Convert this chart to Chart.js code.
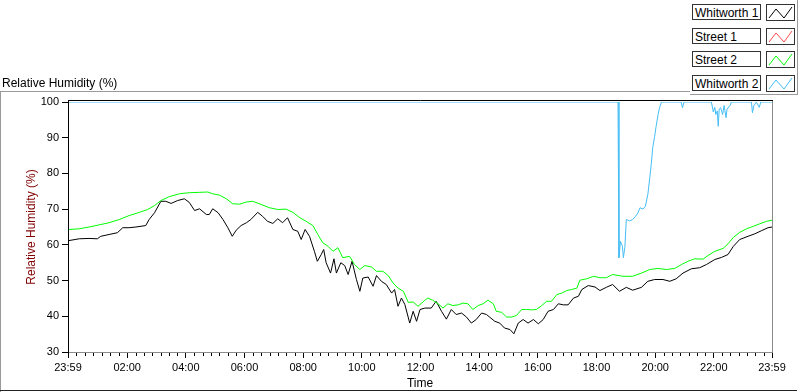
<!DOCTYPE html>
<html>
<head>
<meta charset="utf-8">
<script src="https://cdn.jsdelivr.net/npm/chart.js@4/dist/chart.umd.min.js"></script>
<style>
  html, body { margin:0; padding:0; background:#fff; }
  #wrap { position:relative; width:800px; height:392px; overflow:hidden; background:#fff; font-family:"Liberation Sans", Arial, sans-serif; }
  #c { position:absolute; left:0; top:0; }
  .ov { position:absolute; }
  #title { left:2px; top:76px; font-size:12px; line-height:14px; color:#000; white-space:nowrap; }
  .lbl { position:absolute; left:2px; width:69px; height:16px; border:1px solid #333; font-size:12px; line-height:16px; padding-left:2px; box-sizing:border-box; background:#fff; white-space:nowrap; color:#000; }
  .ico { position:absolute; left:76px; width:29px; height:17px; border:1px solid #333; box-sizing:border-box; background:#fff; }
</style>
</head>
<body>
<div id="wrap">
  <canvas id="c" width="800" height="392"></canvas>
  <div class="ov" id="title">Relative Humidity (%)</div>
  <div class="ov" style="left:0;top:91px;width:690px;height:1px;background:#9a9a9a;"></div>
  <div class="ov" style="left:0;top:91px;width:1px;height:301px;background:#9a9a9a;"></div>
  <div class="ov" style="left:0;top:390px;width:797px;height:1px;background:#222;"></div>
  <div class="ov" id="legend" style="left:690px;top:0;width:108px;height:95px;border-right:1px solid #9a9a9a;border-bottom:1px solid #9a9a9a;box-sizing:border-box;"></div>
</div>
<script>
// ---- data (minutes elapsed since 23:59 of the previous day, relative humidity %) ----
const seriesNames = ['Whitworth 1', 'Street 1', 'Street 2', 'Whitworth 2'];
const seriesColors = ['#000000', '#ff4a4a', '#00ff00', '#45bdf5'];

const xTickMinutes = [0, 121, 241, 361, 481, 601, 721, 841, 961, 1081, 1201, 1321, 1440];
const xTickLabels = ['23:59', '02:00', '04:00', '06:00', '08:00', '10:00', '12:00', '14:00', '16:00', '18:00', '20:00', '22:00', '23:59'];
const yTickValues = [30, 40, 50, 60, 70, 80, 90, 100];

const whitworth1Time = [2,23,43,60,67,84,101,112,125,139,159,166,177,190,200,211,224,238,248,259,269,283,289,296,307,317,327,336,344,354,365,
  374,388,398,408,419,429,439,449,460,470,477,485,494,504,510,518,523,528,537,544,549,558,566,573,581,590,597,603,614,624,631,641,651,662,668,675,682,689,699,706,713,720,730,
  743,753,764,774,784,794,805,815,825,835,846,856,863,873,883,893,904,912,921,931,941,952,962,972,982,993,1003,1013,1023,1034,1044,1051,1064,1078,1088,
  1101,1114,1128,1142,1155,1173,1186,1200,1217,1231,1244,1258,1275,1292,1306,1323,1337,1350,1361,1374,1391,1405,1419,1432,1440];
const whitworth1RH = [61.2,61.7,61.8,61.7,62.4,62.9,63.4,64.8,64.8,65.0,65.4,67.1,69.0,72.2,72.2,71.6,72.4,72.9,71.9,69.6,70.1,68.5,68.5,70.1,69.0,67.1,64.8,62.4,64.1,65.4,66.2,
  67.1,69.1,68.0,66.6,66.0,67.3,66.2,67.6,64.3,63.8,61.5,64.3,62.4,58.2,55.4,57.3,58.7,55.0,52.1,56.1,52.1,55.0,54.2,51.7,55.4,50.3,47.0,50.7,51.0,48.4,51.4,49.8,48.9,46.5,47.5,42.8,45.1,43.3,38.1,41.4,38.6,41.9,42.3,
  42.3,44.2,41.4,39.2,41.9,40.5,40.9,39.8,38.1,39.1,40.9,40.5,39.7,38.6,38.1,36.7,36.3,35.1,38.1,39.1,38.1,39.1,37.9,39.1,41.4,41.9,43.5,43.2,43.2,45.1,45.6,47.5,48.6,48.2,47.2,
  48.1,48.9,47.0,48.1,47.3,48.1,49.8,50.3,50.3,49.8,50.5,52.1,53.3,53.6,54.5,55.9,56.5,57.3,59.6,61.5,62.4,63.1,64.0,64.8,65.0];

const street1Time = [];
const street1RH = [];

const street2Time = [2,23,43,64,84,105,125,146,163,177,190,207,228,248,269,286,296,310,324,337,351,365,
  378,395,412,429,446,460,473,487,501,511,521,532,542,552,562,576,586,597,607,621,631,644,655,665,675,686,696,706,716,730,
  736,746,757,767,777,787,798,808,818,828,839,849,859,870,876,887,897,907,917,928,938,948,958,969,979,989,1000,1010,1020,1030,1041,1047,1061,1075,1088,
  1101,1114,1135,1155,1173,1190,1207,1224,1241,1255,1268,1282,1299,1309,1323,1340,1350,1361,1374,1388,1402,1415,1429,1440];
const street2RH = [64.3,64.5,65.0,65.6,66.2,67.1,68.2,69.1,69.9,71.0,72.4,73.5,74.3,74.6,74.7,74.8,74.3,73.9,72.9,71.5,71.4,72.0,
  72.2,71.3,70.4,69.9,70.0,69.1,67.7,66.6,65.4,62.9,60.6,59.6,58.2,59.2,56.4,56.8,54.5,53.1,54.2,53.8,52.6,52.6,51.4,49.3,47.9,47.0,43.9,44.0,42.8,44.5,
  45.1,44.5,43.5,42.3,43.5,43.0,43.2,43.7,43.5,41.9,43.0,43.5,44.5,43.5,41.4,41.1,39.8,39.8,40.2,41.9,41.9,41.8,41.9,43.0,44.2,44.2,46.1,46.5,47.2,47.5,47.9,50.1,50.5,51.2,50.8,
  50.8,51.7,51.2,51.2,52.1,53.1,53.4,53.1,53.4,54.5,55.4,56.1,56.0,57.0,58.2,59.0,60.3,62.1,63.5,64.5,65.2,65.9,66.6,66.9];

const whitworth2Time = [0,1125,1127,1130,1134,1136,1139,1142,1149,1155,1161,1166,1170,1176,1181,1186,1190,1193,1196,1200,1203,1207,1210,1214,
  1254,1257,1260,1316,1320,1323,1325,1328,1330,1332,1335,1339,1342,1346,1348,1354,1357,1398,1400,1403,1408,1414,1417,1440];
const whitworth2RH = [100,100,56.4,61.0,59.6,56.4,59.3,67.1,66.7,67.1,68.0,69.0,70.4,70.0,70.8,74.1,78.8,82.5,87.2,90.4,93.2,96.5,98.4,100,
  100,98.4,100,100,97.2,98.5,96.5,97.5,93.2,98,98.4,96.5,99,95.6,98,99,100,100,97.0,99,100,98.5,100,100];

// ---- build ----
function pts(t, v) { return t.map((x, i) => ({ x: x, y: v[i] })); }
const seriesData = [pts(whitworth1Time, whitworth1RH), pts(street1Time, street1RH), pts(street2Time, street2RH), pts(whitworth2Time, whitworth2RH)];
const drawOrder = [3, 2, 0, 1];

const datasets = drawOrder.map(i => ({
  label: seriesNames[i],
  data: seriesData[i],
  borderColor: seriesColors[i],
  backgroundColor: seriesColors[i],
  borderWidth: 1,
  pointRadius: 0,
  tension: 0,
  fill: false
}));

// legend (HTML, real text)
const legend = document.getElementById('legend');
const tops = [4, 28, 51, 75];
seriesNames.forEach((name, i) => {
  const l = document.createElement('div');
  l.className = 'lbl';
  l.style.top = tops[i] + 'px';
  l.textContent = name;
  legend.appendChild(l);
  const ic = document.createElement('div');
  ic.className = 'ico';
  ic.style.top = tops[i] + 'px';
  ic.innerHTML = '<svg width="27" height="15" style="position:absolute;left:0;top:0"><polyline points="2,13 9,4 17,13 25,2" fill="none" stroke="' + seriesColors[i] + '" stroke-width="1"/></svg>';
  legend.appendChild(ic);
});

const framePlugin = {
  id: 'frame',
  afterDraw(chart) {
    const ctx = chart.ctx;
    const a = chart.chartArea;
    const xs = chart.scales.x;
    ctx.save();
    ctx.lineWidth = 1;
    // gray right & bottom
    ctx.strokeStyle = '#8a8a8a';
    ctx.beginPath();
    ctx.moveTo(a.right + 0.5, 100);
    ctx.lineTo(a.right + 0.5, a.bottom + 1);
    ctx.moveTo(a.left, a.bottom + 0.5);
    ctx.lineTo(a.right + 1, a.bottom + 0.5);
    ctx.stroke();
    // black top & left
    ctx.strokeStyle = '#000';
    ctx.beginPath();
    ctx.moveTo(a.left, 100.5);
    ctx.lineTo(a.right + 1, 100.5);
    ctx.moveTo(a.left + 0.5, 100);
    ctx.lineTo(a.left + 0.5, a.bottom + 1);
    ctx.stroke();
    // minor x ticks
    ctx.beginPath();
    for (let i = 0; i < xTickMinutes.length - 1; i++) {
      const s = xTickMinutes[i], e = xTickMinutes[i + 1];
      for (let k = 1; k < 7; k++) {
        const px = Math.round(xs.getPixelForValue(s + (e - s) * k / 7)) + 0.5;
        ctx.moveTo(px, a.bottom + 1);
        ctx.lineTo(px, a.bottom + 4);
      }
    }
    ctx.stroke();
    ctx.restore();
  }
};

new Chart(document.getElementById('c'), {
  type: 'line',
  data: { datasets: datasets },
  plugins: [framePlugin],
  options: {
    responsive: false,
    animation: false,
    devicePixelRatio: 1,
    parsing: true,
    layout: { padding: { top: 102, right: 28, left: 0, bottom: 0 } },
    plugins: { legend: { display: false }, title: { display: false }, tooltip: { enabled: false } },
    scales: {
      x: {
        type: 'linear',
        min: 0,
        max: 1440,
        afterFit(s) { s.height = 40; },
        afterBuildTicks(s) { s.ticks = xTickMinutes.map(v => ({ value: v })); },
        border: { display: false },
        grid: { drawOnChartArea: false, drawTicks: true, tickLength: 6, tickColor: '#000', color: '#000' },
        ticks: {
          autoSkip: false, maxRotation: 0, padding: 3,
          color: '#000',
          font: { family: '"Liberation Sans", Arial, sans-serif', size: 11 },
          callback: (v, i) => xTickLabels[i]
        },
        title: {
          display: true, text: 'Time', color: '#000',
          font: { family: '"Liberation Sans", Arial, sans-serif', size: 12 },
          padding: { top: 0, bottom: 1 }
        }
      },
      y: {
        min: 30,
        max: 100,
        afterFit(s) { s.width = 68; },
        afterBuildTicks(s) { s.ticks = yTickValues.map(v => ({ value: v })); },
        border: { display: false },
        grid: { drawOnChartArea: false, drawTicks: true, tickLength: 6, tickColor: '#000', color: '#000' },
        ticks: {
          padding: 3,
          color: '#000',
          font: { family: '"Liberation Sans", Arial, sans-serif', size: 11 }
        },
        title: {
          display: true, text: 'Relative Humidity (%)', color: '#800000',
          font: { family: '"Liberation Sans", Arial, sans-serif', size: 12 },
          padding: { top: 24, bottom: 0 }
        }
      }
    }
  }
});
</script>
</body>
</html>
